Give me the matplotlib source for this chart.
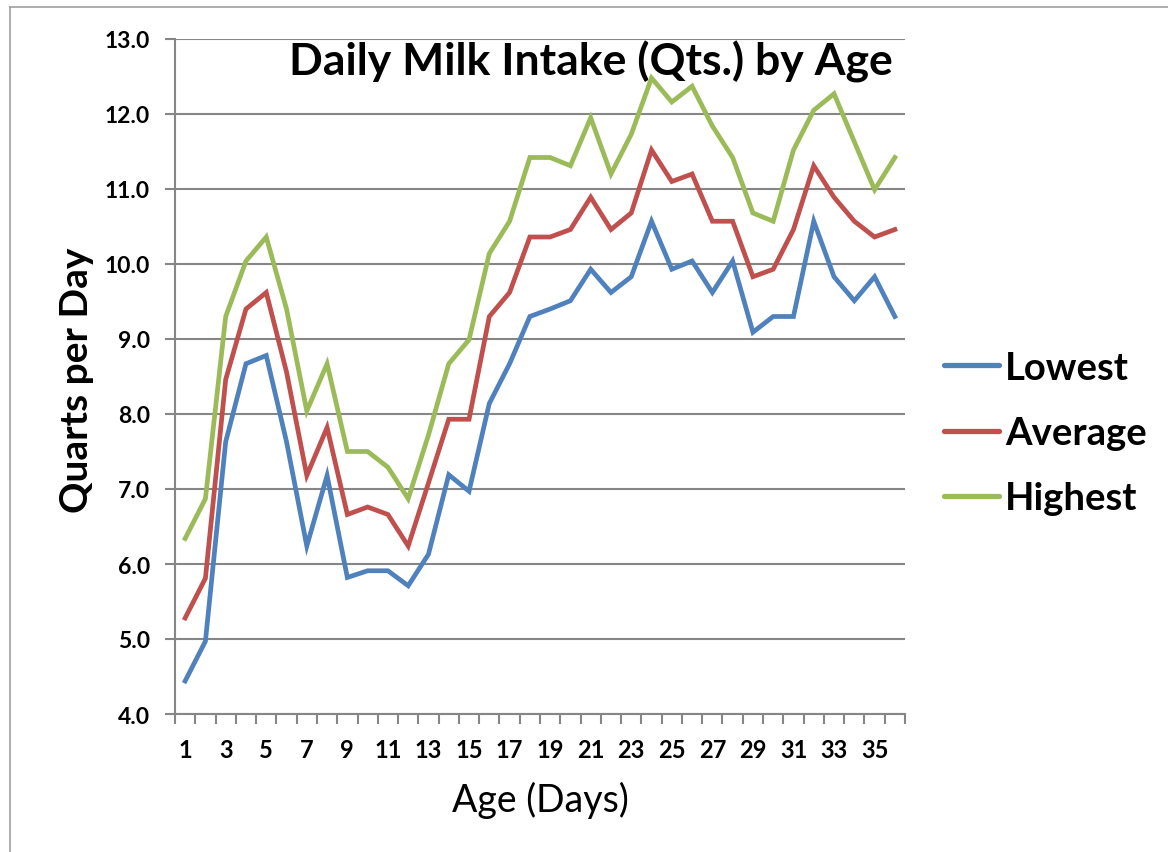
import matplotlib
matplotlib.use("Agg")
import matplotlib.pyplot as plt
from matplotlib.lines import Line2D
import numpy as np

days = list(range(1, 37))
lowest = [4.44, 4.97, 7.63, 8.67, 8.78, 7.63, 6.24, 7.18, 5.82, 5.91, 5.91, 5.71,
          6.13, 7.19, 6.97, 8.14, 8.67, 9.30, 9.40, 9.51, 9.93, 9.62, 9.83, 10.57,
          9.93, 10.04, 9.62, 10.04, 9.09, 9.30, 9.30, 10.57, 9.83, 9.51, 9.83, 9.30]
average = [5.28, 5.81, 8.46, 9.40, 9.62, 8.56, 7.18, 7.82, 6.66, 6.76, 6.66, 6.24,
           7.08, 7.93, 7.93, 9.30, 9.62, 10.36, 10.36, 10.46, 10.89, 10.46, 10.68, 11.52,
           11.10, 11.20, 10.57, 10.57, 9.83, 9.93, 10.46, 11.31, 10.89, 10.57, 10.36, 10.46]
highest = [6.34, 6.87, 9.30, 10.04, 10.36, 9.40, 8.04, 8.67, 7.50, 7.50, 7.29, 6.87,
           7.72, 8.67, 8.99, 10.14, 10.57, 11.42, 11.42, 11.31, 11.95, 11.20, 11.73, 12.48,
           12.16, 12.37, 11.84, 11.42, 10.68, 10.57, 11.52, 12.05, 12.27, 11.63, 10.99, 11.42]
series_names = ["Lowest", "Average", "Highest"]
colors = ["#4F81BD", "#C0504D", "#9BBB59"]
y_ticks = [4.0, 5.0, 6.0, 7.0, 8.0, 9.0, 10.0, 11.0, 12.0, 13.0]

plt.rcParams['font.family'] = ['Lato', 'DejaVu Sans']

W, H = 1168, 853
fig = plt.figure(figsize=(W / 100, H / 100), dpi=100)
ax = fig.add_axes([175 / W, 1 - 715 / H, (905 - 175) / W, (715 - 40) / H])

for vals, name, c in zip([lowest, average, highest], series_names, colors):
    ax.plot(days, vals, color=c, lw=3.4, solid_joinstyle='miter', label=name)

ax.set_xlim(0.5, 36.5)
ax.set_ylim(4.0, 13.0)
ax.set_yticks(y_ticks)
ax.set_yticklabels([f"{v:.1f}" for v in y_ticks], fontsize=16.5, fontweight='bold')
ax.yaxis.grid(True, color='#868686', lw=1.5)
ax.set_axisbelow(True)
ax.tick_params(axis='y', length=7, width=1.5, color='#868686', pad=11)

ax.set_xticks(np.arange(0.5, 37.0, 1.0))
ax.set_xticklabels([])
ax.tick_params(axis='x', length=7, width=1.5, color='#868686', direction='out')
for d in days:
    if d % 2 == 1:
        ax.text(d, -0.036, str(d), transform=ax.get_xaxis_transform(),
                ha='center', va='top', fontsize=17, fontweight='bold')

for s in ['top', 'right']:
    ax.spines[s].set_visible(False)
for s in ['left', 'bottom']:
    ax.spines[s].set_color('#868686')
    ax.spines[s].set_linewidth(1.5)

fig.text(76 / W, 1 - 380 / H, "Quarts per Day", rotation=90, ha='center', va='center',
         fontsize=28, fontweight='bold')
fig.text(540 / W, 1 - 800 / H, "Age (Days)", ha='center', va='center', fontsize=27)
fig.text(591 / W, 1 - 62 / H, "Daily Milk Intake (Qts.) by Age", ha='center', va='center',
         fontsize=32, fontweight='bold')

handles = [Line2D([0], [0], color=c, lw=3.8, solid_capstyle='round') for c in colors]
leg = fig.legend(handles, series_names, loc='center left', bbox_to_anchor=(944 / W, 1 - 434 / H),
                 frameon=False, prop={'size': 27.5, 'weight': 'bold'}, handlelength=1.45,
                 handletextpad=0.15, labelspacing=0.82, borderpad=0, borderaxespad=0)

# outer border
fig.add_artist(Line2D([10 / W, 10 / W], [0, 1 - 8 / H], transform=fig.transFigure,
                      color='#A0A0A0', lw=1.2))
fig.add_artist(Line2D([10 / W, 1], [1 - 8 / H, 1 - 8 / H], transform=fig.transFigure,
                      color='#A0A0A0', lw=1.2))

fig.savefig("out.png", dpi=100)
